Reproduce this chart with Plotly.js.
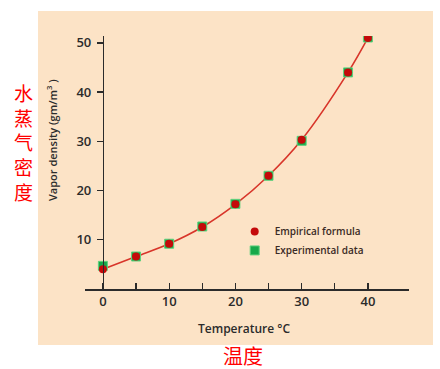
<!DOCTYPE html>
<html>
<head>
<meta charset="utf-8">
<script src="https://cdn.plot.ly/plotly-3.0.1.min.js"></script>
<style>
html,body{margin:0;padding:0;background:#fff;}
#chart{width:440px;height:369px;}
</style>
</head>
<body>
<div id="chart"></div>
<script>
const temperature = [0, 5, 10, 15, 20, 25, 30, 37, 40];
const empirical = [4.0, 6.6, 9.2, 12.6, 17.2, 23.0, 30.3, 44.0, 51.0];
const experimental = [4.7, 6.6, 9.2, 12.7, 17.3, 23.0, 30.1, 44.0, 51.1];
const xTickVals = [0, 10, 20, 30, 40];
const xTickText = ['0', '10', '20', '30', '40'];
const xMinorTickVals = [5, 15, 25, 35];
const yTickVals = [10, 20, 30, 40, 50];
const yTickText = ['10', '20', '30', '40', '50'];

const tickFont = {family: 'Open Sans, Lato, sans-serif', size: 13, color: '#2b2b2b', weight: 600};
const axisColor = '#2b2b2b';

const traces = [
  {
    x: temperature, y: empirical, mode: 'lines', type: 'scatter',
    line: {color: '#d8352a', width: 1.6, shape: 'spline'},
    showlegend: false, hoverinfo: 'skip'
  },
  {
    x: temperature, y: experimental, mode: 'markers', type: 'scatter',
    name: 'Experimental data', legendrank: 2,
    marker: {symbol: 'square', size: 9, color: '#17a84a', line: {color: '#5fd17d', width: 1}}
  },
  {
    x: temperature, y: empirical, mode: 'markers', type: 'scatter',
    name: 'Empirical formula', legendrank: 1,
    marker: {symbol: 'circle', size: 8, color: '#c40a0a'}
  }
];

const layout = {
  width: 440, height: 369,
  margin: {l: 85, r: 31, t: 36, b: 80},
  paper_bgcolor: 'rgba(0,0,0,0)',
  plot_bgcolor: 'rgba(0,0,0,0)',
  font: {family: 'Open Sans, Lato, sans-serif', color: '#2b2b2b'},
  xaxis: {
    range: [-2.7, 46.2], showgrid: false, zeroline: false,
    showline: true, linecolor: axisColor, linewidth: 1.5,
    tickmode: 'array', tickvals: xTickVals, ticktext: xTickText,
    ticks: 'inside', ticklen: 6, tickwidth: 1.3, tickcolor: axisColor,
    tickfont: tickFont,
    minor: {tickmode: 'array', tickvals: xMinorTickVals, ticks: 'inside', ticklen: 6, tickwidth: 1.3, tickcolor: axisColor, showgrid: false}
  },
  yaxis: {
    range: [0, 51.4], showgrid: false, zeroline: false,
    anchor: 'free', position: (0 + 2.7) / 48.9,
    showline: true, linecolor: axisColor, linewidth: 1.5,
    tickmode: 'array', tickvals: yTickVals, ticktext: yTickText,
    ticks: 'outside', ticklen: 6, tickwidth: 1.3, tickcolor: axisColor,
    ticklabelstandoff: 3,
    tickfont: tickFont
  },
  legend: {
    x: 0.462, y: 0.19, xanchor: 'left', yanchor: 'middle',
    bgcolor: 'rgba(0,0,0,0)', font: {size: 10, color: '#3a2a25', weight: 600},
    traceorder: 'normal', itemwidth: 30, tracegroupgap: 0
  },
  shapes: [{
    type: 'rect', xref: 'paper', yref: 'paper', layer: 'below',
    x0: (38 - 85) / 324, x1: (433 - 85) / 324,
    y0: (289 - 345) / 253, y1: (289 - 11) / 253,
    fillcolor: '#fce3c6', line: {width: 0}
  }],
  annotations: [
    {
      text: 'Vapor density (gm/m<sup>3</sup> )', xref: 'paper', yref: 'paper',
      x: (52 - 85) / 324, y: (289 - 140) / 253, textangle: -90, showarrow: false,
      xanchor: 'center', yanchor: 'middle',
      font: {size: 11, color: '#2b2b2b', weight: 600}
    },
    {
      text: 'Temperature °C', xref: 'paper', yref: 'paper',
      x: (244 - 85) / 324, y: (289 - 328) / 253, showarrow: false,
      xanchor: 'center', yanchor: 'middle',
      font: {size: 12, color: '#2b2b2b', weight: 600}
    },
    {
      text: '水<br>蒸<br>气<br>密<br>度', xref: 'paper', yref: 'paper',
      x: (23 - 85) / 324, y: (289 - 142) / 253, showarrow: false,
      xanchor: 'center', yanchor: 'middle',
      font: {size: 19, color: '#ff0000', family: 'Noto Sans CJK SC, sans-serif'}
    },
    {
      text: '温度', xref: 'paper', yref: 'paper',
      x: (243 - 85) / 324, y: (289 - 355) / 253, showarrow: false,
      xanchor: 'center', yanchor: 'middle',
      font: {size: 20, color: '#ff0000', family: 'Noto Sans CJK SC, sans-serif'}
    }
  ]
};

Plotly.newPlot('chart', traces, layout, {displayModeBar: false, staticPlot: true});
</script>
</body>
</html>
